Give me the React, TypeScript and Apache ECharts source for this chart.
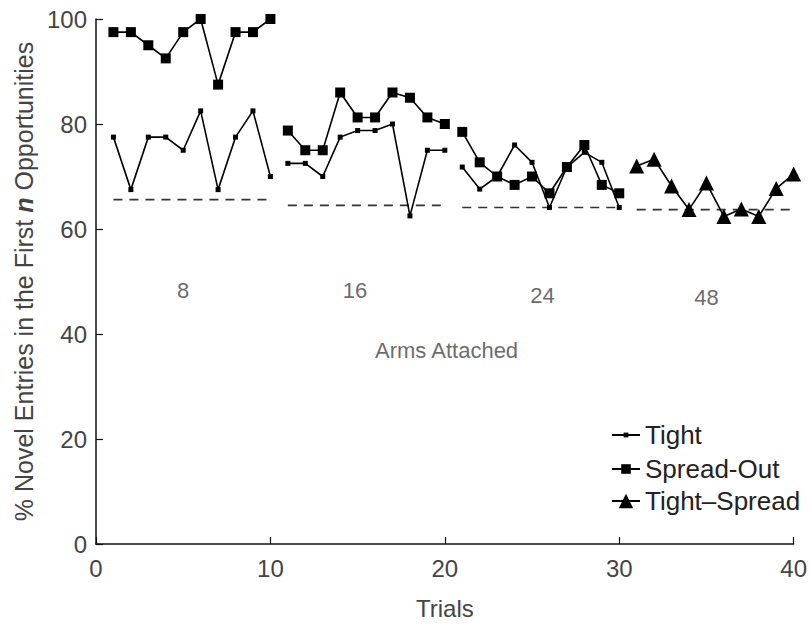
import React, { useEffect, useRef } from "react";
import * as echarts from "echarts";

const trialsB1 = [1, 2, 3, 4, 5, 6, 7, 8, 9, 10];
const trialsB2 = [11, 12, 13, 14, 15, 16, 17, 18, 19, 20];
const trialsB3 = [21, 22, 23, 24, 25, 26, 27, 28, 29, 30];
const trialsB4 = [31, 32, 33, 34, 35, 36, 37, 38, 39, 40];

const tightB1 = [77.5, 67.5, 77.5, 77.5, 75, 82.5, 67.5, 77.5, 82.5, 70];
const tightB2 = [72.5, 72.5, 70, 77.5, 78.75, 78.75, 80, 62.5, 75, 75];
const tightB3 = [71.8, 67.6, 70, 76, 72.7, 64.1, 71.8, 74.6, 72.7, 64.1];

const spreadB1 = [97.5, 97.5, 95, 92.5, 97.5, 100, 87.5, 97.5, 97.5, 100];
const spreadB2 = [78.75, 75, 75, 86, 81.25, 81.25, 86, 85, 81.25, 80];
const spreadB3 = [78.5, 72.7, 70, 68.4, 70, 66.8, 71.8, 76, 68.4, 66.8];

const tightSpreadB4 = [72, 73.3, 68.2, 63.7, 68.75, 62.4, 63.8, 62.4, 67.7, 70.5];

const chanceStart = [1, 11, 21, 31];
const chanceEnd = [10, 20, 30, 40];
const chanceLevel = [65.6, 64.5, 64.1, 63.7];

const annoText = ["8", "16", "24", "48", "Arms Attached"];
const annoX = [5, 14.85, 25.6, 35, 20.1];
const annoY = [48.3, 48.3, 47.3, 46.9, 36.9];

const legendNames = ["Tight", "Spread-Out", "Tight–Spread"];

const xTicks = [0, 10, 20, 30, 40];
const yTicks = [0, 20, 40, 60, 80, 100];

const FONT = "Liberation Sans";
const TEXT = "#444";

const zip = (xs: number[], ys: number[]) => xs.map((x, i) => [x, ys[i]]);

export default function App() {
  const ref = useRef<HTMLDivElement>(null);
  useEffect(() => {
    if (!ref.current) return;
    const chart = echarts.init(ref.current, undefined, { renderer: "svg" });

    const lineSeries = (name: string, xs: number[], ys: number[], symbol: string, size: number) => ({
      name,
      type: "line",
      data: zip(xs, ys),
      symbol,
      symbolSize: size,
      showAllSymbol: true,
      lineStyle: { color: "#000", width: 1.6 },
      itemStyle: { color: "#000", borderWidth: 0 },
      z: 3,
    });

    const series: any[] = [];
    chanceLevel.forEach((lv, i) => {
      series.push({
        type: "line",
        data: [
          [chanceStart[i], lv],
          [chanceEnd[i], lv],
        ],
        symbol: "none",
        lineStyle: { color: "#333", width: 1.6, type: [9, 7] },
        silent: true,
        z: 1,
      });
    });
    series.push(lineSeries("Tight", trialsB1, tightB1, "rect", 5));
    series.push(lineSeries("Tight", trialsB2, tightB2, "rect", 5));
    series.push(lineSeries("Tight", trialsB3, tightB3, "rect", 5));
    series.push(lineSeries("Spread-Out", trialsB1, spreadB1, "rect", 10));
    series.push(lineSeries("Spread-Out", trialsB2, spreadB2, "rect", 10));
    series.push(lineSeries("Spread-Out", trialsB3, spreadB3, "rect", 10));
    series.push(lineSeries("Tight–Spread", trialsB4, tightSpreadB4, "triangle", 15));
    series.push({
      type: "scatter",
      data: annoX.map((x, i) => [x, annoY[i], annoText[i]]),
      symbolSize: 0,
      silent: true,
      label: {
        show: true,
        position: "inside",
        formatter: (p: any) => p.data[2],
        fontFamily: FONT,
        fontSize: 22,
        color: TEXT,
      },
    });

    const rowCenters = [435, 469, 501];
    const iconHeights = [6, 12, 18];
    const legends = legendNames.map((n, i) => ({
      data: [n],
      orient: "vertical",
      left: 611,
      top: rowCenters[i] - 13,
      padding: 0,
      itemWidth: 28,
      itemHeight: iconHeights[i],
      itemGap: 7,
      textStyle: { fontFamily: FONT, fontSize: 26, color: "#222" },
    }));

    chart.setOption({
      animation: false,
      backgroundColor: "#fff",
      grid: { left: 96, right: 13, top: 19, bottom: 78, containLabel: false },
      legend: legends,
      xAxis: {
        type: "value",
        min: 0,
        max: 40,
        interval: 10,
        name: "Trials",
        nameLocation: "middle",
        nameGap: 52,
        nameTextStyle: { fontFamily: FONT, fontSize: 24, color: TEXT },
        axisLine: { show: true, lineStyle: { color: "#111", width: 1.5 } },
        axisTick: { show: true, inside: true, length: 7, lineStyle: { color: "#111", width: 1.2 } },
        axisLabel: { margin: 12, fontFamily: FONT, fontSize: 24, color: TEXT,
          formatter: (v: number) => (xTicks.includes(v) ? String(v) : "") },
        splitLine: { show: false },
      },
      yAxis: {
        type: "value",
        min: 0,
        max: 100,
        interval: 20,
        name: "% Novel Entries in the First {i|n} Opportunities",
        nameLocation: "middle",
        nameGap: 58,
        nameTextStyle: {
          fontFamily: FONT, fontSize: 25, color: TEXT,
          rich: { i: { fontFamily: FONT, fontSize: 25, fontStyle: "italic", fontWeight: "bold", color: TEXT } },
        },
        axisLine: { show: true, lineStyle: { color: "#111", width: 1.5 } },
        axisTick: { show: true, inside: true, length: 7, lineStyle: { color: "#111", width: 1.2 } },
        axisLabel: { margin: 9, fontFamily: FONT, fontSize: 24, color: TEXT,
          formatter: (v: number) => (yTicks.includes(v) ? String(v) : "") },
        splitLine: { show: false },
      },
      series,
    });
    return () => chart.dispose();
  }, []);
  return <div ref={ref} style={{ width: 810, height: 625, position: "absolute", left: 0, top: 0 }} />;
}
